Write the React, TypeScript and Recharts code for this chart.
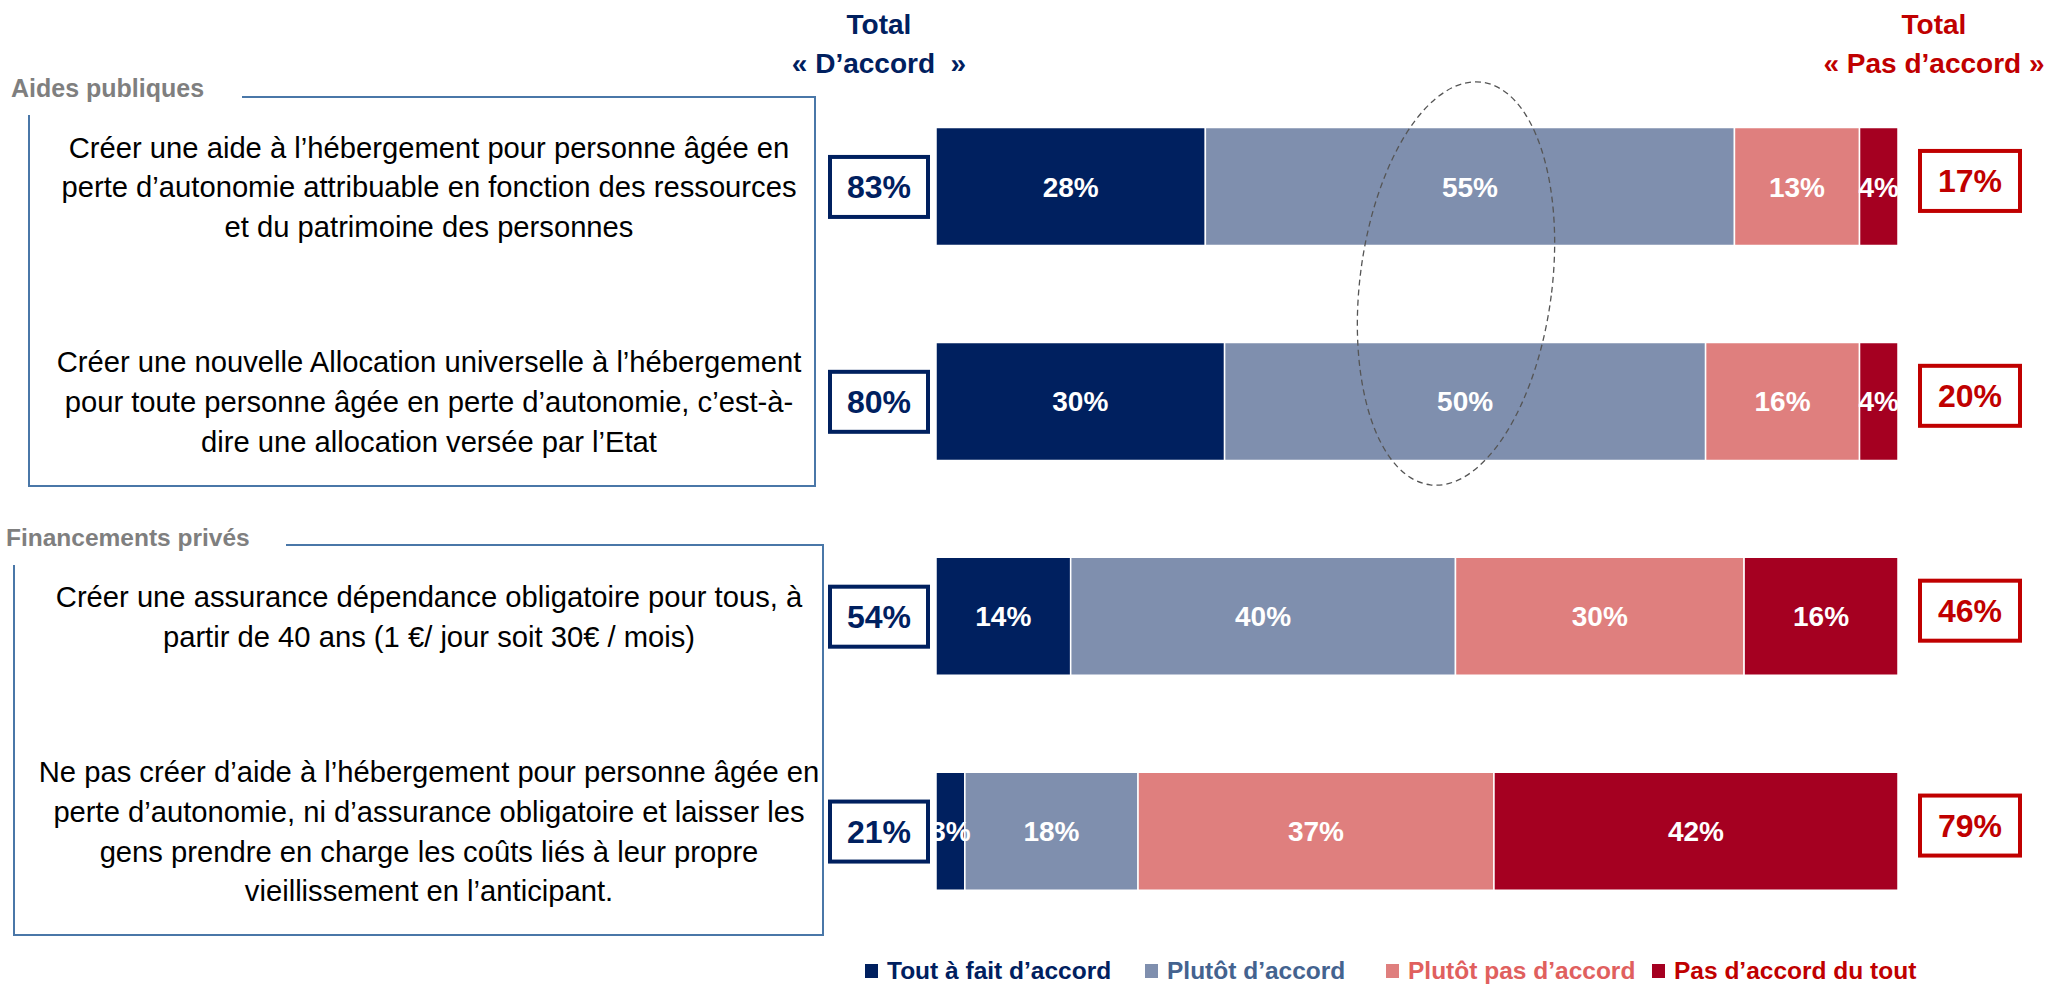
import React from 'react';
import { BarChart, Bar, XAxis, YAxis, LabelList, Legend, Customized } from 'recharts';

// --- données ---
const questions = ['q1', 'q2', 'q3', 'q4'];

const questionLines = [
  [
    'Créer une aide à l’hébergement pour personne âgée en',
    'perte d’autonomie attribuable en fonction des ressources',
    'et du patrimoine des personnes',
  ],
  [
    'Créer une nouvelle Allocation universelle à l’hébergement',
    'pour toute personne âgée en perte d’autonomie, c’est-à-',
    'dire une allocation versée par l’Etat',
  ],
  [
    'Créer une assurance dépendance obligatoire pour tous, à',
    'partir de 40 ans (1 €/ jour soit 30€ / mois)',
  ],
  [
    'Ne pas créer d’aide à l’hébergement pour personne âgée en',
    'perte d’autonomie, ni d’assurance obligatoire et laisser les',
    'gens prendre en charge les coûts liés à leur propre',
    'vieillissement en l’anticipant.',
  ],
];

const toutAFait = [28, 30, 14, 3];
const plutotAccord = [55, 50, 40, 18];
const plutotPas = [13, 16, 30, 37];
const pasDuTout = [4, 4, 16, 42];

const totalAccord = [83, 80, 54, 21];
const totalPasAccord = [17, 20, 46, 79];

const seriesKeys = ['toutAFait', 'plutotAccord', 'plutotPas', 'pasDuTout'];
const seriesNames = ['Tout à fait d’accord', 'Plutôt d’accord', 'Plutôt pas d’accord', 'Pas d’accord du tout'];
const seriesColors = ['#00205f', '#7f8fae', '#df7f7e', '#a50021'];
const legendTextColors = ['#00205f', '#44638f', '#e0605e', '#c00000'];

const sections = ['Aides publiques', 'Financements privés'];

const data = questions.map((name, i) => ({
  name,
  toutAFait: toutAFait[i],
  plutotAccord: plutotAccord[i],
  plutotPas: plutotPas[i],
  pasDuTout: pasDuTout[i],
}));

// --- mise en page ---
const W = 2071;
const H = 987;
const FONT = "'Liberation Sans', Arial, sans-serif";
const NAVY = '#00205f';
const RED = '#c00000';
const BOX_LINE = '#4a77a8';
const PLOT_LEFT = 936;
const PLOT_RIGHT = 1898;
const TEXT_CX = 429;
const LINE_H = 39.6;
const LEGEND_X = [865, 1145, 1386, 1652];

const QuestionTick = (props: any) => {
  const { y, payload } = props;
  const i = questions.indexOf(payload.value);
  const lines = questionLines[i];
  const startY = y - ((lines.length - 1) * LINE_H) / 2;
  return (
    <g fontFamily={FONT}>
      <text textAnchor="middle" fontSize={29.2} fill="#000">
        {lines.map((l, k) => (
          <tspan key={k} x={TEXT_CX} y={startY + k * LINE_H} dy="0.35em">
            {l}
          </tspan>
        ))}
      </text>
      <rect x={830} y={y - 30} width={98} height={60} fill="#fff" stroke={NAVY} strokeWidth={4} />
      <text x={879} y={y} dy="0.36em" textAnchor="middle" fontSize={32} fontWeight="bold" fill={NAVY}>
        {totalAccord[i]}%
      </text>
      <rect x={1920} y={y - 36} width={100} height={60} fill="#fff" stroke={RED} strokeWidth={4} />
      <text x={1970} y={y - 6} dy="0.36em" textAnchor="middle" fontSize={32} fontWeight="bold" fill={RED}>
        {totalPasAccord[i]}%
      </text>
    </g>
  );
};

const ClippedLabel = (props: any) => {
  const { x, y, width, height, value } = props;
  return (
    <svg x={PLOT_LEFT} y={y} width={PLOT_RIGHT - PLOT_LEFT} height={height} overflow="hidden">
      <text
        x={Number(x) + Number(width) / 2 - PLOT_LEFT}
        y={Number(height) / 2}
        dy="0.36em"
        textAnchor="middle"
        fill="#fff"
        fontWeight="bold"
        fontSize={28}
        fontFamily={FONT}
      >
        {value}%
      </text>
    </svg>
  );
};

const Decorations = () => (
  <g fontFamily={FONT}>
    {/* en-têtes */}
    <text x={879} y={34} textAnchor="middle" fontSize={28} fontWeight="bold" fill={NAVY}>Total</text>
    <text x={879} y={73} textAnchor="middle" fontSize={28} fontWeight="bold" fill={NAVY}>{'«\u00a0D’accord\u00a0\u00a0»'}</text>
    <text x={1934} y={34} textAnchor="middle" fontSize={28} fontWeight="bold" fill={RED}>Total</text>
    <text x={1934} y={73} textAnchor="middle" fontSize={28} fontWeight="bold" fill={RED}>« Pas d’accord »</text>

    {/* encadrés */}
    <text x={11} y={97} fontSize={25} fontWeight="bold" fill="#7f7f7f">{sections[0]}</text>
    <polyline points="242,97 815,97 815,486 29,486 29,115" fill="none" stroke={BOX_LINE} strokeWidth={2} />
    <text x={6} y={546} fontSize={24.5} fontWeight="bold" fill="#7f7f7f">{sections[1]}</text>
    <polyline points="286,545 823,545 823,935 14,935 14,565" fill="none" stroke={BOX_LINE} strokeWidth={2} />
  </g>
);

const LegendContent = () => (
  <div style={{ position: 'relative', height: 48, width: W, fontFamily: FONT }}>
    {seriesNames.map((n, i) => (
      <div
        key={n}
        style={{
          position: 'absolute',
          left: LEGEND_X[i],
          top: 18,
          display: 'flex',
          alignItems: 'center',
          fontSize: 24.5,
          fontWeight: 'bold',
          color: legendTextColors[i],
          whiteSpace: 'nowrap',
        }}
      >
        <span style={{ display: 'inline-block', width: 13, height: 14, background: seriesColors[i], marginRight: 9 }} />
        {n}
      </div>
    ))}
  </div>
);

export default function App() {
  return (
    <div style={{ position: 'absolute', left: 0, top: 0, width: W, height: H, background: '#fff' }}>
      <BarChart
        width={W}
        height={H}
        data={data}
        layout="vertical"
        margin={{ top: 79.5, right: W - PLOT_RIGHT, bottom: 0, left: 0 }}
      >
        <XAxis type="number" domain={[0, 100]} hide />
        <YAxis
          type="category"
          dataKey="name"
          width={PLOT_LEFT}
          axisLine={false}
          tickLine={false}
          tick={<QuestionTick />}
          interval={0}
        />
        {seriesKeys.map((k, i) => (
          <Bar
            key={k}
            dataKey={k}
            name={seriesNames[i]}
            stackId="a"
            fill={seriesColors[i]}
            stroke="#fff"
            strokeWidth={1.5}
            barSize={118}
            isAnimationActive={false}
          >
            <LabelList dataKey={k} content={<ClippedLabel />} />
          </Bar>
        ))}
        <Legend
          verticalAlign="bottom"
          height={48}
          content={<LegendContent />}
          wrapperStyle={{ left: 0, width: W, bottom: 0 }}
        />
        <Customized component={<Decorations />} />
      </BarChart>
      {/* ellipse pointillée, par-dessus les barres */}
      <svg
        width={W}
        height={H}
        style={{ position: 'absolute', left: 0, top: 0, pointerEvents: 'none' }}
      >
        <ellipse
          cx={1456}
          cy={283.5}
          rx={96}
          ry={203}
          transform="rotate(7.3 1456 283.5)"
          fill="none"
          stroke="#555"
          strokeWidth={1.3}
          strokeDasharray="6 4"
        />
      </svg>
    </div>
  );
}
